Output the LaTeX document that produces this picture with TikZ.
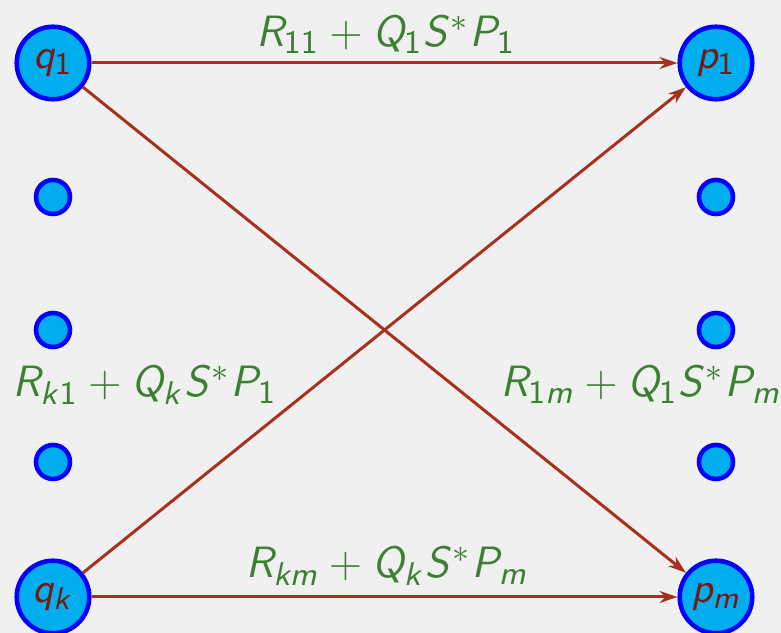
\documentclass[tikz,border=0pt]{standalone}
\usepackage{amsmath}
\usepackage{xcolor}
\usetikzlibrary{arrows.meta}

% matematica senza grazie
\DeclareSymbolFont{sflettere}{OT1}{cmss}{m}{sl}
\SetSymbolFont{operators}{normal}{OT1}{cmss}{m}{n}
\DeclareMathSymbol{q}{\mathalpha}{sflettere}{`q}
\DeclareMathSymbol{p}{\mathalpha}{sflettere}{`p}
\DeclareMathSymbol{k}{\mathalpha}{sflettere}{`k}
\DeclareMathSymbol{m}{\mathalpha}{sflettere}{`m}
\DeclareMathSymbol{R}{\mathalpha}{sflettere}{`R}
\DeclareMathSymbol{Q}{\mathalpha}{sflettere}{`Q}
\DeclareMathSymbol{S}{\mathalpha}{sflettere}{`S}
\DeclareMathSymbol{P}{\mathalpha}{sflettere}{`P}

\definecolor{sfondo}{RGB}{240,240,240}
\definecolor{ciano}{RGB}{0,174,239}
\definecolor{bordo}{RGB}{0,0,255}
\definecolor{freccia}{RGB}{168,48,30}
\definecolor{verde}{RGB}{60,128,50}
\definecolor{testo}{RGB}{120,25,15}

\tikzset{
  stato/.style={circle, draw=bordo, fill=ciano, line width=1.3pt,
    minimum size=7.25mm, inner sep=0pt, text=testo,
    font=\fontsize{13}{15}\selectfont},
  punto/.style={circle, draw=bordo, fill=ciano, line width=1.3pt,
    minimum size=3.4mm, inner sep=0pt},
  peso/.style={text=verde, font=\fontsize{13}{15}\selectfont, inner sep=0pt,
    scale=1.04, transform shape},
  arco/.style={->, draw=freccia, line width=0.85pt}
}

\begin{document}
\begin{tikzpicture}[>={Stealth[length=1.8mm,width=1.2mm]}, x=1cm, y=-1cm]
  % Sfondo
  \fill[sfondo] (0,0) rectangle (7.81,6.33);
  \useasboundingbox (0,0) rectangle (7.81,6.33);

  % Nodi
  \node[stato] (q1) at (0.53,0.63) {$q_1$};
  \node[stato] (qk) at (0.53,5.97) {$q_k$};
  \node[stato] (p1) at (7.16,0.63) {$p_1$};
  \node[stato] (pm) at (7.16,5.97) {$p_m$};

  % Punti intermedi
  \foreach \y [count=\i] in {1.97,3.30,4.62} {
    \node[punto] (l\i) at (0.53,\y) {};
    \node[punto] (r\i) at (7.16,\y) {};
  }

  % Frecce
  \draw[arco] (q1) -- (p1);
  \draw[arco] (q1) -- (pm);
  \draw[arco] (qk) -- (p1);
  \draw[arco] (qk) -- (pm);

  % Etichette
  \node[peso, anchor=base] (w11) at (3.86,0.47) {$R_{11} + Q_1 S^* P_1$};
  \node[peso, anchor=base west] (wk1) at (0.12,3.97) {$R_{k1} + Q_k S^* P_1$};
  \node[peso, anchor=base west] (w1m) at (5.00,3.97) {$R_{1m} + Q_1 S^* P_m$};
  \node[peso, anchor=base] (wkm) at (3.87,5.78) {$R_{km} + Q_k S^* P_m$};
\end{tikzpicture}
\end{document}
